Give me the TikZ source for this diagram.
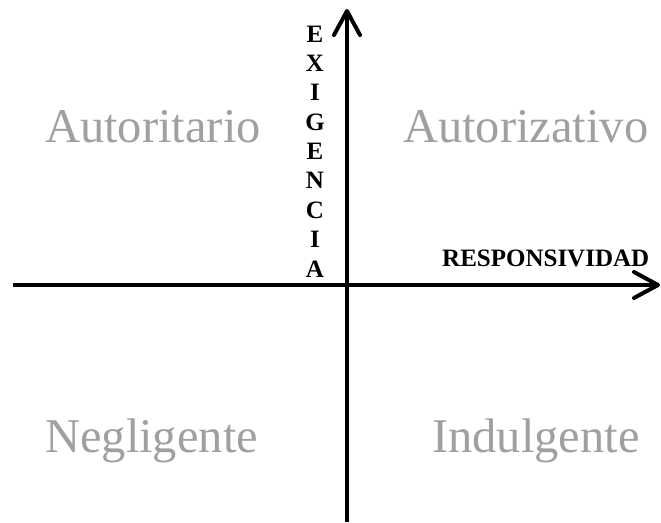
\documentclass[tikz,border=0pt]{standalone}
\usepackage{fontspec}
\setmainfont{Liberation Serif}
\usetikzlibrary{arrows.meta}
\definecolor{labelgray}{RGB}{160,160,160}
\tikzset{
  axis/.style={line width=3.5pt, -{Straight Barb[length=24pt,width=26pt,line width=4pt,round]}},
  quadlabel/.style={anchor=base west, inner sep=0pt, text=labelgray, font=\fontsize{48.5}{56}\selectfont},
  axislabel/.style={inner sep=0pt, text=black, font=\bfseries\fontsize{25}{28}\selectfont}
}
\begin{document}
\begin{tikzpicture}[x=1pt,y=-1pt]
\useasboundingbox (0,0) rectangle (661,522);
\coordinate (vbot) at (347,522);
\coordinate (vtop) at (347,9);
\coordinate (hleft) at (13,285);
\coordinate (hright) at (660,285);
\draw[axis] (vbot) -- (vtop);
\draw[axis] (hleft) -- (hright);
\node[quadlabel] (aut) at (45,142) {Autoritario};
\node[quadlabel] (autz) at (403,142) {Autorizativo};
\node[quadlabel] (neg) at (45,452) {Negligente};
\node[quadlabel] (ind) at (432,452) {Indulgente};
\node[axislabel, anchor=base west] (resp) at (442,266) {RESPONSIVIDAD};
\foreach \ch [count=\i from 0] in {E,X,I,G,E,N,C,I,A}{
  \node[axislabel, anchor=base] (ex\i) at (315,{42+\i*29.375}) {\ch};
}
\end{tikzpicture}
\end{document}
